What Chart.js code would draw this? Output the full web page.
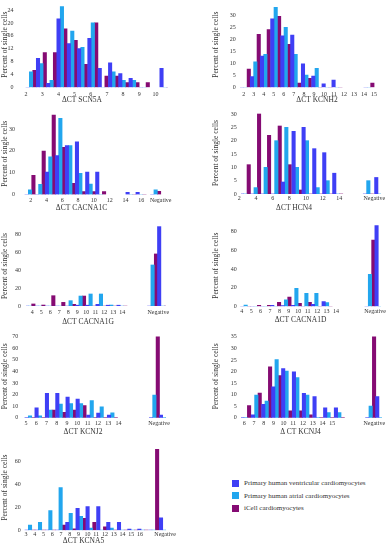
<!DOCTYPE html>
<html><head><meta charset="utf-8">
<script src="https://cdn.jsdelivr.net/npm/chart.js@4/dist/chart.umd.min.js"></script>
<style>
html,body{margin:0;padding:0;background:#fff;}
#wrap{position:relative;width:389px;height:550px;overflow:hidden;background:#fff;}
canvas{position:absolute;}
.legend{position:absolute;left:232px;top:477px;font-family:'Liberation Serif','Times New Roman',serif;font-size:7px;color:#333;}
.legend .row{height:12.5px;display:flex;align-items:center;white-space:nowrap;}
.legend .sw{display:inline-block;width:7px;height:7px;margin-right:5px;}
</style></head><body>
<div id="wrap">
<canvas id="c1" width="195" height="110" style="left:0;top:0"></canvas>
<canvas id="c2" width="194" height="110" style="left:195px;top:0"></canvas>
<canvas id="c3" width="195" height="115" style="left:0;top:110px"></canvas>
<canvas id="c4" width="194" height="115" style="left:195px;top:110px"></canvas>
<canvas id="c5" width="195" height="110" style="left:0;top:225px"></canvas>
<canvas id="c6" width="194" height="110" style="left:195px;top:225px"></canvas>
<canvas id="c7" width="195" height="110" style="left:0;top:330px"></canvas>
<canvas id="c8" width="194" height="110" style="left:195px;top:330px"></canvas>
<canvas id="c9" width="195" height="110" style="left:0;top:440px"></canvas>
<div class="legend" id="legend"></div>
</div>
<script>
// ---- Data (percent of single cells per ΔCT bin) ----
const seriesNames = ['Primary human ventricular cardiomyocytes', 'Primary human atrial cardiomyocytes', 'iCell cardiomyocytes'];
const yTitle = 'Percent of single cells';

// SCN5A
const scn5aBins = [2.31, 2.95, 3.58, 4.22, 4.86, 5.49, 6.13, 6.77, 7.41, 8.04, 8.68, 9.32, 10.59];
const scn5aVent = [0, 9, 1.2, 21.3, 13.6, 12, 15.2, 5.9, 7.6, 4.3, 2.8, 0, 5.9];
const scn5aAtr  = [4.8, 7.4, 2.2, 25.1, 17.5, 12.4, 20, 0, 4.8, 2.2, 2.2, 0, 0];
const scn5aIcell= [5.3, 10.8, 10.8, 18.2, 14.6, 7.1, 20, 3.5, 3.5, 1.5, 1.5, 1.5, 0];
const scn5aTicks = [2, 3, 4, 5, 6, 7, 8, 9, 10];
const scn5aTickLabels = ['2', '3', '4', '5', '6', '7', '8', '9', '10'];

// KCNH2
const kcnh2Bins = [2.17, 3.16, 4.16, 5.19, 6.19, 7.18, 8.25, 9.28, 10.31, 11.3, 14.49];
const kcnh2Vent = [0, 4.4, 13, 28.4, 21.4, 21.7, 9.7, 4.7, 1.4, 3, 0];
const kcnh2Atr  = [0, 10.6, 13.7, 33.2, 24.9, 13.7, 5.1, 7.9, 0, 0, 0];
const kcnh2Icell= [7.6, 22, 24, 29.5, 17.8, 1.7, 3.7, 0, 0, 0, 1.7];
const kcnh2Ticks = [2, 3, 4, 5, 6, 7, 8, 9, 10, 11, 12, 13, 14, 15];
const kcnh2TickLabels = ['2', '3', '4', '5', '6', '7', '8', '9', '10', '11', '12', '13', '14', '15'];

// CACNA1C
const cacna1cBins = [1.92, 3.22, 4.49, 5.76, 7.02, 8.29, 9.59, 10.86, 14.7, 15.97, 17.82];
const cacna1cVent = [0, 0, 10.3, 17.9, 22.5, 24.2, 10.3, 10.3, 1, 1, 0];
const cacna1cAtr  = [2.1, 4.7, 17.3, 34.9, 22.4, 9.7, 4.8, 0, 0, 0, 2.1];
const cacna1cIcell= [8.8, 19.9, 36.4, 21.6, 5.1, 1.3, 1.3, 1.3, 0, 0, 1.5];
const cacna1cTicks = [2, 4, 6, 8, 10, 12, 14, 16, 18.46];
const cacna1cTickLabels = ['2', '4', '6', '8', '10', '12', '14', '16', 'Negative'];

// HCN4
const hcn4Bins = [2.72, 3.96, 5.16, 6.44, 7.64, 8.92, 10.12, 11.4, 12.6, 13.8, 17.48, 18.84];
const hcn4Vent = [0, 0, 0, 0, 4.5, 23.5, 25, 17, 15.5, 7.8, 0, 6.2];
const hcn4Atr  = [0, 2.4, 10, 20, 25, 10, 20, 2.4, 5, 0, 5, 0];
const hcn4Icell= [11, 30, 22, 25.5, 11, 1.5, 0, 0, 0, 0, 0, 0];
const hcn4Ticks = [2, 4, 6, 8, 10, 12, 14, 18.2];
const hcn4TickLabels = ['2', '4', '6', '8', '10', '12', '14', 'Negative'];

// CACNA1G
const cacna1gBins = [3.74, 4.85, 5.96, 7.07, 8.26, 9.37, 10.48, 11.63, 12.78, 13.96, 17.37, 18.48];
const cacna1gVent = [0, 0, 0, 0, 0, 1, 1, 2, 1, 1, 0, 89.3];
const cacna1gAtr  = [0, 0, 0, 0, 6.1, 11.3, 13.6, 13.6, 1.2, 0, 46.2, 0];
const cacna1gIcell= [2.4, 1.2, 11.7, 4.2, 2, 11.3, 0, 0, 0, 0, 58.6, 0];
const cacna1gTicks = [4, 5, 6, 7, 8, 9, 10, 11, 12, 13, 14, 18.0];
const cacna1gTickLabels = ['4', '5', '6', '7', '8', '9', '10', '11', '12', '13', '14', 'Negative'];

// CACNA1D
const cacna1dBins = [4.42, 5.48, 6.54, 7.6, 8.7, 9.8, 10.86, 11.92, 13.05, 17.6, 18.66];
const cacna1dVent = [0, 0, 0, 1.1, 0.7, 1.1, 0, 2.1, 5, 0, 86.4];
const cacna1dAtr  = [1.4, 0, 0, 0, 6.8, 19.3, 13.9, 13.9, 3.9, 34.3, 0];
const cacna1dIcell= [0, 1.1, 1.1, 4.3, 10, 3.2, 4.3, 0, 0, 71, 0];
const cacna1dTicks = [4, 5, 6, 7, 8, 9, 10, 11, 12, 13, 14, 18.13];
const cacna1dTickLabels = ['4', '5', '6', '7', '8', '9', '10', '11', '12', '13', '14', 'Negative'];

// KCNJ2
const kcnj2Bins = [5.39, 6.36, 7.37, 8.38, 9.38, 10.36, 11.4, 12.37, 13.41, 17.5, 18.47];
const kcnj2Vent = [0, 8.6, 21, 21, 17.9, 16.1, 2.3, 4, 2.3, 0, 2.3];
const kcnj2Atr  = [1.7, 1.7, 6.6, 11.8, 12.1, 12.1, 14.7, 9.5, 4.3, 19.6, 0];
const kcnj2Icell= [0, 0, 6.6, 4.6, 6.6, 10.4, 0, 0, 0, 70, 0];
const kcnj2Ticks = [5, 6, 7, 8, 9, 10, 11, 12, 13, 14, 17.95];
const kcnj2TickLabels = ['5', '6', '7', '8', '9', '10', '11', '12', '13', '14', 'Negative'];

// KCNJ4
const kcnj4Bins = [6.14, 7.23, 8.29, 9.31, 10.33, 11.43, 12.45, 13.54, 14.63, 15.73, 18.94, 19.96];
const kcnj4Vent = [0, 1.2, 5.8, 13.4, 21.3, 19.9, 10.5, 9.1, 4.3, 4.3, 0, 9.1];
const kcnj4Atr  = [0, 9.8, 7.2, 25.2, 20.2, 17.4, 9.8, 0, 2.2, 2.2, 5, 0];
const kcnj4Icell= [5.2, 10.7, 22, 18.2, 3, 3, 1.2, 0, 0, 0, 35, 0];
const kcnj4Ticks = [6, 7, 8, 9, 10, 11, 12, 13, 14, 15, 19.31];
const kcnj4TickLabels = ['6', '7', '8', '9', '10', '11', '12', '13', '14', '15', 'Negative'];

// KCNA5
const kcna5Bins = [3.46, 4.6, 5.78, 6.95, 8.1, 9.27, 10.41, 11.63, 12.77, 13.99, 15.17, 16.31, 17.56, 18.78];
const kcna5Vent = [0, 0, 0, 0, 6.9, 19.1, 20.6, 20.6, 6.9, 6.9, 1, 1, 0, 10.9];
const kcna5Atr  = [4.5, 6.9, 17.1, 37.2, 14.7, 12.1, 1.9, 0, 1.9, 0, 0, 0, 0, 0];
const kcna5Icell= [0, 0, 0, 4.5, 1.3, 10.3, 6.9, 3, 0, 0, 0, 0, 70.7, 0];
const kcna5Ticks = [3, 4, 5, 6, 7, 8, 9, 10, 11, 12, 13, 14, 15, 16, 18.86];
const kcna5TickLabels = ['3', '4', '5', '6', '7', '8', '9', '10', '11', '12', '13', '14', '15', '16', 'Negative'];

// ---- Styling ----
const COLORS = ['#3f3ff5', '#22a6ee', '#850b73'];
const FONT = "'Liberation Serif', 'Times New Roman', serif";
const TEXT = '#333';

function makePanel(id, d, p) {
  const mk = vals => d.bins.map((b, i) => ({x: b, y: vals[i]}));
  const canvas = document.getElementById(id);
  const W = canvas.width, H = canvas.height;
  new Chart(canvas, {
    type: 'bar',
    data: {datasets: [
      {label: seriesNames[0], data: mk(d.vent), backgroundColor: COLORS[0]},
      {label: seriesNames[1], data: mk(d.atr), backgroundColor: COLORS[1]},
      {label: seriesNames[2], data: mk(d.icell), backgroundColor: COLORS[2]}
    ]},
    options: {
      responsive: false, animation: false, events: [],
      layout: {padding: {top: p.T, right: W - p.R, bottom: 0, left: 0}},
      plugins: {legend: {display: false}, tooltip: {enabled: false}},
      datasets: {bar: {barThickness: 3.4, borderWidth: 0}},
      scales: {
        x: {
          type: 'linear', min: p.xmin, max: p.xmax, offset: false,
          grid: {display: false, drawTicks: false, offset: false}, border: {display: false},
          afterBuildTicks: s => { s.ticks = d.ticks.map(v => ({value: v})); },
          ticks: {autoSkip: false, maxRotation: 0, minRotation: 0, padding: p.xPad, color: TEXT,
                  font: {family: FONT, size: 6}, callback: (v, i) => d.tickLabels[i]},
          title: {display: true, text: d.title, color: TEXT, font: {family: FONT, size: 7.5},
                  padding: {top: 0, bottom: p.xTitlePad}},
          afterFit: s => {
            s.height = H - p.B; s.paddingLeft = 0; s.paddingRight = 0;
            // shift the axis title horizontally as in the reference
            s.drawTitle = function () {
              const l = this.left, r = this.right;
              this.left = l + p.xTitleDx; this.right = r + p.xTitleDx;
              Object.getPrototypeOf(this).drawTitle.call(this);
              this.left = l; this.right = r;
            };
          }
        },
        y: {
          min: 0, max: p.ymax,
          grid: {display: false, drawTicks: false}, border: {display: false},
          afterBuildTicks: s => { s.ticks = p.yTicks.map(v => ({value: v})); },
          ticks: {padding: p.yPad, color: TEXT, font: {family: FONT, size: 6}},
          title: {display: true, text: yTitle, color: TEXT, font: {family: FONT, size: 7.5},
                  padding: {top: p.yTitlePad, bottom: 0}},
          afterFit: s => { s.width = p.L; s.paddingTop = 0; s.paddingBottom = 0; }
        }
      }
    }
  });
}

makePanel('c1', {bins: scn5aBins, vent: scn5aVent, atr: scn5aAtr, icell: scn5aIcell, ticks: scn5aTicks, tickLabels: scn5aTickLabels, title: 'ΔCT SCN5A'},
  {L: 22, R: 168, T: 2, B: 87.3, xmin: 1.75, xmax: 10.78, ymax: 26.5, yTicks: [0, 4, 8, 12, 16, 20, 24], yPad: 8.5, yTitlePad: 0.5, xPad: 3.4, xTitlePad: 5.8, xTitleDx: -13});
makePanel('c2', {bins: kcnh2Bins, vent: kcnh2Vent, atr: kcnh2Atr, icell: kcnh2Icell, ticks: kcnh2Ticks, tickLabels: kcnh2TickLabels, title: 'ΔCT KCNH2'},
  {L: 45, R: 185, T: 2, B: 87.3, xmin: 1.63, xmax: 15.59, ymax: 35.4, yTicks: [0, 5, 10, 15, 20, 25, 30], yPad: 4.3, yTitlePad: 16.2, xPad: 3.4, xTitlePad: 5.8, xTitleDx: 7});
makePanel('c3', {bins: cacna1cBins, vent: cacna1cVent, atr: cacna1cAtr, icell: cacna1cIcell, ticks: cacna1cTicks, tickLabels: cacna1cTickLabels, title: 'ΔCT CACNA1C'},
  {L: 23, R: 166, T: 3, B: 84.5, xmin: 1.03, xmax: 19.13, ymax: 37.4, yTicks: [0, 10, 20, 30], yPad: 8, yTitlePad: 0.5, xPad: 1.9, xTitlePad: 12.1, xTitleDx: -13});
makePanel('c4', {bins: hcn4Bins, vent: hcn4Vent, atr: hcn4Atr, icell: hcn4Icell, ticks: hcn4Ticks, tickLabels: hcn4TickLabels, title: 'ΔCT HCN4'},
  {L: 46, R: 186, T: 2, B: 84, xmin: 2.2, xmax: 19.0, ymax: 30.75, yTicks: [0, 5, 10, 15, 20, 25, 30], yPad: 4.3, yTitlePad: 16.2, xPad: 1, xTitlePad: 12.5, xTitleDx: -17});
makePanel('c5', {bins: cacna1gBins, vent: cacna1gVent, atr: cacna1gAtr, icell: cacna1gIcell, ticks: cacna1gTicks, tickLabels: cacna1gTickLabels, title: 'ΔCT CACNA1G'},
  {L: 26, R: 166, T: 1, B: 81.1, xmin: 3.3, xmax: 18.86, ymax: 90, yTicks: [0, 20, 40, 60, 80], yPad: 5, yTitlePad: 0.5, xPad: 2.6, xTitlePad: 8.5, xTitleDx: -8});
makePanel('c6', {bins: cacna1dBins, vent: cacna1dVent, atr: cacna1dAtr, icell: cacna1dIcell, ticks: cacna1dTicks, tickLabels: cacna1dTickLabels, title: 'ΔCT CACNA1D'},
  {L: 45, R: 186, T: 0, B: 81.3, xmin: 3.82, xmax: 18.77, ymax: 87.1, yTicks: [0, 20, 40, 60, 80], yPad: 3.3, yTitlePad: 16.2, xPad: 1.1, xTitlePad: 10.8, xTitleDx: -10});
makePanel('c7', {bins: kcnj2Bins, vent: kcnj2Vent, atr: kcnj2Atr, icell: kcnj2Icell, ticks: kcnj2Ticks, tickLabels: kcnj2TickLabels, title: 'ΔCT KCNJ2'},
  {L: 22, R: 166, T: 5, B: 87.7, xmin: 4.61, xmax: 18.63, ymax: 71.5, yTicks: [0, 10, 20, 30, 40, 50, 60, 70], yPad: 3.7, yTitlePad: 0.5, xPad: 2, xTitlePad: 3.5, xTitleDx: -11});
makePanel('c8', {bins: kcnj4Bins, vent: kcnj4Vent, atr: kcnj4Atr, icell: kcnj4Icell, ticks: kcnj4Ticks, tickLabels: kcnj4TickLabels, title: 'Δ CT KCNJ4'},
  {L: 46, R: 187, T: 5, B: 87.7, xmin: 5.66, xmax: 20.1, ymax: 35.8, yTicks: [0, 5, 10, 15, 20, 25, 30, 35], yPad: 4.3, yTitlePad: 16.2, xPad: 2, xTitlePad: 3.5, xTitleDx: -11});
makePanel('c9', {bins: kcna5Bins, vent: kcna5Vent, atr: kcna5Atr, icell: kcna5Icell, ticks: kcna5Ticks, tickLabels: kcna5TickLabels, title: 'ΔCT KCNA5'},
  {L: 23, R: 166, T: 5, B: 90.2, xmin: 2.66, xmax: 18.96, ymax: 74.5, yTicks: [0, 20, 40, 60], yPad: 2.3, yTitlePad: 0.5, xPad: 0.5, xTitlePad: 4.1, xTitleDx: -11});

// Legend (real text)
const lg = document.getElementById('legend');
seriesNames.forEach((name, i) => {
  const row = document.createElement('div'); row.className = 'row';
  const sw = document.createElement('span'); sw.className = 'sw'; sw.style.background = COLORS[i];
  row.appendChild(sw); row.appendChild(document.createTextNode(name));
  lg.appendChild(row);
});
</script>
</body></html>
